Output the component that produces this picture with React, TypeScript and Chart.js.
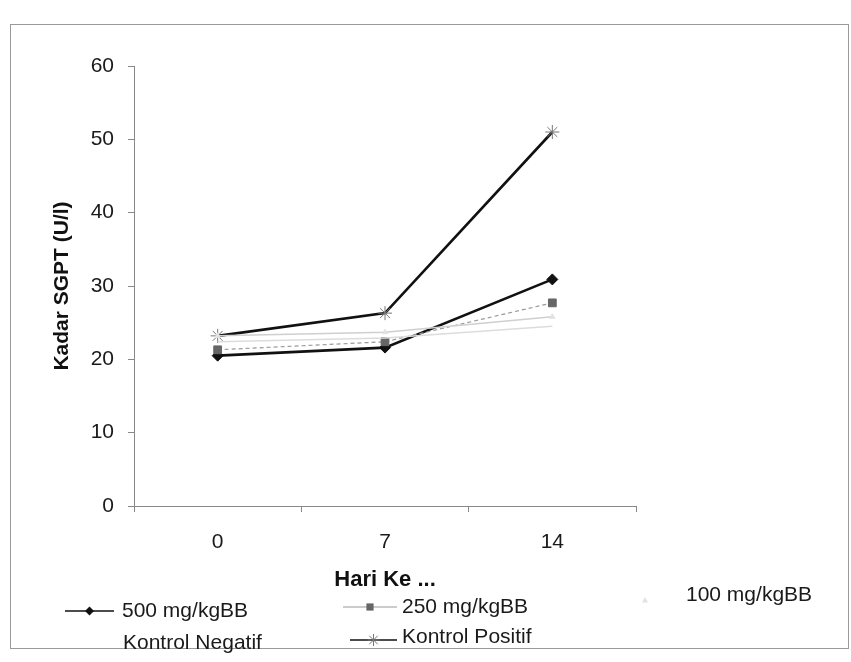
import React, { useEffect, useRef } from "react";
import { Chart, registerables } from "chart.js";

Chart.register(...registerables);

const categories = ["0", "7", "14"];
const seriesNames = ["500 mg/kgBB", "250 mg/kgBB", "100 mg/kgBB", "Kontrol Negatif", "Kontrol Positif"];
const dose500 = [20.5, 21.6, 30.9];
const dose250 = [21.3, 22.4, 27.7];
const dose100 = [23.2, 23.7, 25.8];
const kontrolNegatif = [22.4, 22.9, 24.5];
const kontrolPositif = [23.2, 26.3, 51.0];
const yTicks = [0, 10, 20, 30, 40, 50, 60];

const FONT = "'Liberation Sans', Arial, sans-serif";

const styles = [
  { color: "#111", width: 2.6, dash: [] as number[], point: "rectRot", radius: 5.5, pFill: "#111", pStroke: "#111" },
  { color: "#9a9a9a", width: 1.2, dash: [4, 3], point: "rect", radius: 5.5, pFill: "#666", pStroke: "#666" },
  { color: "#cfcfcf", width: 1.5, dash: [] as number[], point: "triangle", radius: 3, pFill: "#e2e2e2", pStroke: "#e2e2e2" },
  { color: "#dcdcdc", width: 1.5, dash: [] as number[], point: "circle", radius: 0, pFill: "#ddd", pStroke: "#ddd" },
  { color: "#111", width: 2.6, dash: [] as number[], point: "star", radius: 7, pFill: "#777", pStroke: "#777" },
];

// legend layout: [lineStartX, lineEndX, lineY, textX, textY]
const legendLayout = [
  [65, 114, 611, 122, 611],
  [343, 397, 607, 402, 607],
  [622, 668, 600, 686, 595],
  [65, 114, 645, 123, 643],
  [350, 397, 640, 402, 637],
];

function marker(ctx: CanvasRenderingContext2D, kind: string, x: number, y: number, r: number) {
  ctx.beginPath();
  if (kind === "rectRot") {
    ctx.moveTo(x, y - r); ctx.lineTo(x + r, y); ctx.lineTo(x, y + r); ctx.lineTo(x - r, y); ctx.closePath();
    ctx.fill();
  } else if (kind === "rect") {
    ctx.rect(x - r * 0.8, y - r * 0.8, r * 1.6, r * 1.6);
    ctx.fill();
  } else if (kind === "triangle") {
    ctx.moveTo(x, y - r); ctx.lineTo(x + r, y + r * 0.8); ctx.lineTo(x - r, y + r * 0.8); ctx.closePath();
    ctx.fill();
  } else if (kind === "star") {
    ctx.moveTo(x - r, y); ctx.lineTo(x + r, y);
    ctx.moveTo(x, y - r); ctx.lineTo(x, y + r);
    const d = r * 0.707;
    ctx.moveTo(x - d, y - d); ctx.lineTo(x + d, y + d);
    ctx.moveTo(x - d, y + d); ctx.lineTo(x + d, y - d);
    ctx.stroke();
  }
}

const frameAndLegend = {
  id: "frameAndLegend",
  beforeDraw(chart: any) {
    const ctx = chart.ctx;
    ctx.save();
    ctx.fillStyle = "#fff";
    ctx.fillRect(0, 0, chart.width, chart.height);
    ctx.strokeStyle = "#9a9a9a";
    ctx.lineWidth = 1;
    ctx.strokeRect(10.5, 24.5, 838, 624);
    ctx.restore();
  },
  afterDraw(chart: any) {
    const ctx = chart.ctx;
    ctx.save();
    chart.data.datasets.forEach((ds: any, i: number) => {
      const [x0, x1, ly, tx, ty] = legendLayout[i];
      const st = styles[i];
      if (i !== 2 && i !== 3) {
        ctx.strokeStyle = i === 1 ? "#9a9a9a" : "#111";
        ctx.lineWidth = i === 1 ? 1.2 : 1.5;
        ctx.setLineDash([]);
        ctx.beginPath();
        ctx.moveTo(x0, ly);
        ctx.lineTo(x1, ly);
        ctx.stroke();
      }
      if (st.radius > 0) {
        ctx.fillStyle = st.pFill;
        ctx.strokeStyle = st.pStroke;
        ctx.lineWidth = 1;
        const cx = i === 2 ? 645 : (x0 + x1) / 2;
        marker(ctx, st.point, cx, ly, i === 2 ? 3 : st.radius - 1);
      }
      ctx.fillStyle = "#1a1a1a";
      ctx.font = `21px ${FONT}`;
      ctx.textAlign = "left";
      ctx.textBaseline = "middle";
      ctx.fillText(ds.label, tx, ty);
    });
    ctx.restore();
  },
};

export default function App() {
  const ref = useRef<HTMLCanvasElement | null>(null);
  useEffect(() => {
    if (!ref.current) return;
    const seriesData = [dose500, dose250, dose100, kontrolNegatif, kontrolPositif];
    const order = [3, 2, 1, 0, 4];
    const chart = new Chart(ref.current, {
      type: "line",
      data: {
        labels: categories,
        datasets: seriesNames.map((name, i) => ({
          label: name,
          data: seriesData[i],
          borderColor: styles[i].color,
          borderWidth: styles[i].width,
          borderDash: styles[i].dash,
          pointStyle: styles[i].point as any,
          pointRadius: styles[i].radius,
          pointBackgroundColor: styles[i].pFill,
          pointBorderColor: styles[i].pStroke,
          pointBorderWidth: 1,
          tension: 0,
          fill: false,
          order: order[i],
        })),
      },
      options: {
        animation: false,
        responsive: false,
        events: [],
        layout: { padding: { left: 46, right: 215, top: 66, bottom: 69 } },
        plugins: { legend: { display: false }, tooltip: { enabled: false } },
        scales: {
          x: {
            type: "category",
            offset: true,
            grid: { display: true, offset: true, drawOnChartArea: false, drawTicks: true, tickLength: 6, color: "#888" },
            border: { color: "#888", width: 1 },
            ticks: { color: "#1a1a1a", font: { family: FONT, size: 21 }, padding: 18 },
            title: { display: true, text: "Hari Ke ...", color: "#111", font: { family: FONT, size: 22, weight: "bold" }, padding: { top: 0, bottom: 0 } },
            afterFit: (s: any) => { s.height = 87; },
          },
          y: {
            min: 0,
            max: 60,
            afterBuildTicks: (s: any) => { s.ticks = yTicks.map((v) => ({ value: v })); },
            grid: { display: true, drawOnChartArea: false, drawTicks: true, tickLength: 6, color: "#888" },
            border: { color: "#888", width: 1 },
            ticks: { color: "#1a1a1a", font: { family: FONT, size: 21 }, padding: 14 },
            title: { display: true, text: "Kadar SGPT (U/l)", color: "#111", font: { family: FONT, size: 21, weight: "bold" }, padding: { top: 4, bottom: 0 } },
            afterFit: (s: any) => { s.width = 88; },
          },
        },
      },
      plugins: [frameAndLegend],
    });
    return () => chart.destroy();
  }, []);
  return (
    <div style={{ position: "absolute", left: 0, top: 0, width: 851, height: 662 }}>
      <canvas ref={ref} width={851} height={662} />
    </div>
  );
}
